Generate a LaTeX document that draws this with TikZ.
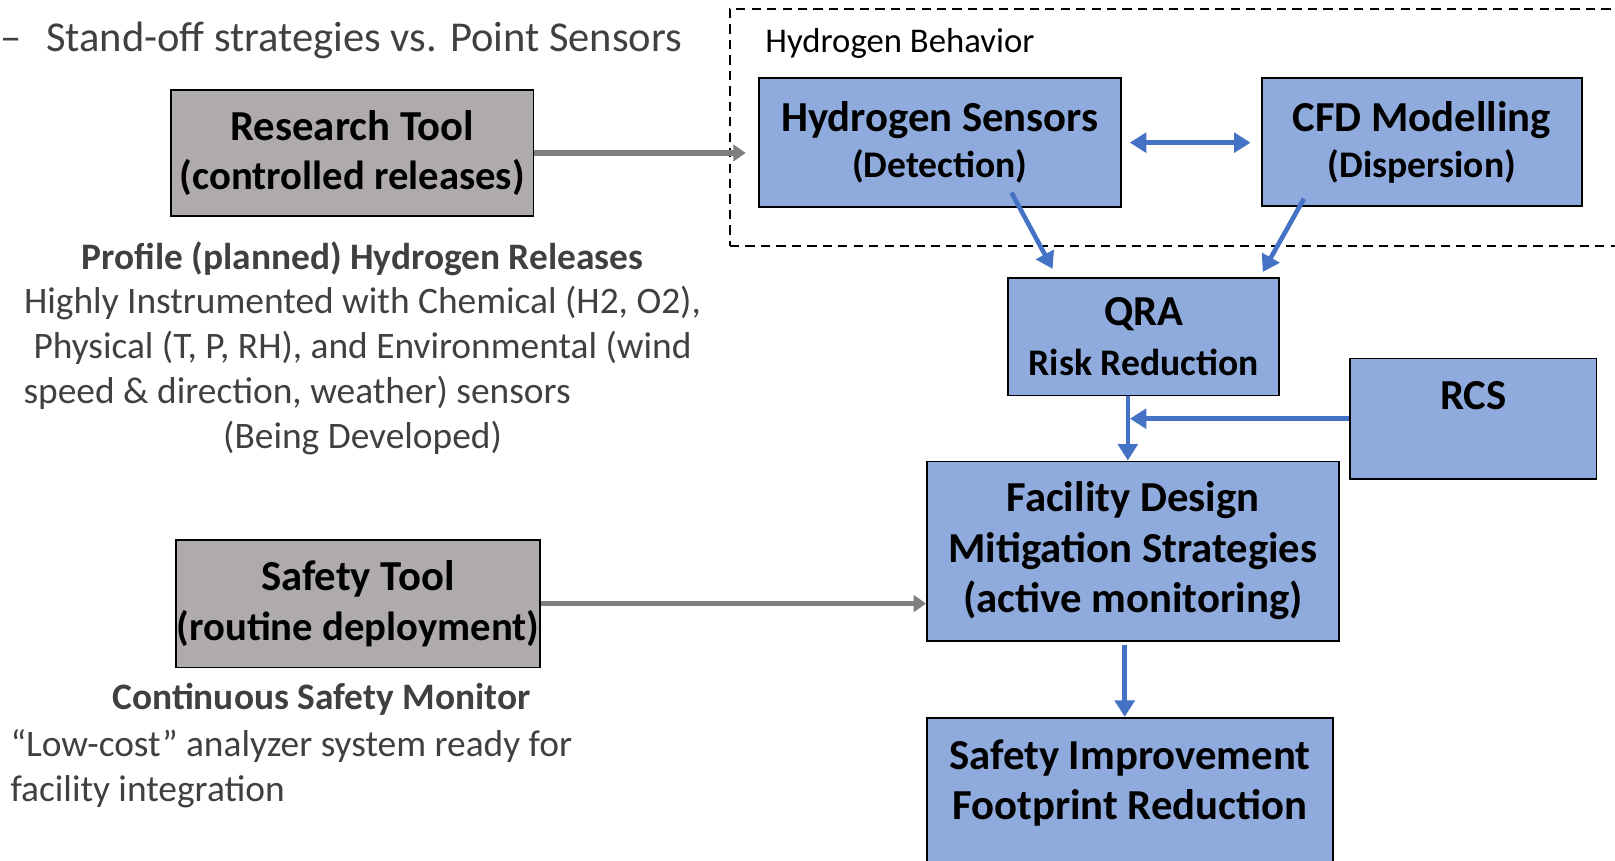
\documentclass[tikz,border=0pt]{standalone}
\usepackage{fontspec}
\setmainfont{Carlito}
\usepackage{tikz}
\usetikzlibrary{arrows.meta,positioning}
\definecolor{boxblue}{HTML}{8FAADC}
\definecolor{boxgray}{HTML}{AFABAB}
\definecolor{linkblue}{HTML}{4472C4}
\definecolor{linkgray}{HTML}{7F7F7F}
\definecolor{textgray}{HTML}{404040}

\begin{document}
\begin{tikzpicture}[x=1pt,y=-1pt,
  toolbox/.style={draw=black,line width=1.8pt,fill=boxgray,align=center,inner sep=0pt,
    font=\bfseries\fontsize{41.5}{48}\selectfont},
  stagebox/.style={draw=black,line width=1.8pt,fill=boxblue,align=center,inner sep=0pt,
    font=\bfseries\fontsize{41.5}{49}\selectfont},
  notes/.style={text=textgray,inner sep=0pt,font=\fontsize{36.3}{43.5}\selectfont},
  graylink/.style={draw=linkgray,line width=5.5pt,-{Triangle[length=12pt,width=16pt]}},
  bluelink/.style={draw=linkblue,line width=4.5pt,-{Triangle[length=16pt,width=19pt]}}]
  \clip (0,0) rectangle (1568,835);

  \node[anchor=base west,notes,font=\fontsize{41.3}{46}\selectfont] (standoff) at (0,50)
    {–\hspace{24pt}Stand-off strategies vs. Point Sensors};

  \node[toolbox,minimum width=352,minimum height=123] (research) at (342,148.5)
    {Research Tool\\{\fontsize{39.5}{48}\selectfont(controlled releases)}};
  \node[notes,align=center] (profile) at (352,338)
    {\bfseries Profile (planned) Hydrogen Releases\\
     Highly Instrumented with Chemical (H2, O2),\\
     Physical (T, P, RH), and Environmental (wind\\
     speed \& direction, weather) sensors\hspace*{127pt}\mbox{}\\
     (Being Developed)};

  \node[toolbox,minimum width=353,minimum height=124] (safety) at (347.5,586)
    {Safety Tool\\{\fontsize{39.5}{48}\selectfont(routine deployment)}};
  \node[notes,font=\bfseries\fontsize{36.3}{43.5}\selectfont] (monitor) at (312,679)
    {Continuous Safety Monitor};
  \node[notes,align=left,anchor=north west] (monitortext) at (10,708)
    {“Low-cost” analyzer system ready for\\facility integration};

  \node[draw=black,line width=1.5pt,dash pattern=on 9pt off 6pt,anchor=north west,
    minimum width=950,minimum height=230,inner sep=0pt] (behavior) at (708,8) {};
  \node[anchor=west,inner sep=0pt,font=\fontsize{33.7}{40}\selectfont] (behaviorlabel) at (743,42)
    {Hydrogen Behavior};

  \node[stagebox,minimum width=351,minimum height=125,font=\bfseries\fontsize{41.5}{45}\selectfont]
    (sensors) at (912.5,138.5)
    {Hydrogen Sensors\\{\fontsize{36.5}{41}\selectfont(Detection)}};
  \node[stagebox,minimum width=311,minimum height=124,font=\bfseries\fontsize{41.5}{45}\selectfont]
    (cfd) at (1380.5,138)
    {CFD Modelling\\{\fontsize{36.5}{41}\selectfont(Dispersion)}};
  \node[stagebox,minimum width=263,minimum height=114] (qra) at (1110.5,327)
    {QRA\\{\fontsize{36.5}{44}\selectfont Risk Reduction}};
  \node[stagebox,minimum width=239,minimum height=117,text height=28pt,text depth=45pt] (rcs)
    at (1430.5,406.5) {RCS};
  \node[stagebox,minimum width=400,minimum height=174] (facility) at (1100,535)
    {Facility Design\\Mitigation Strategies\\(active monitoring)};
  \node[stagebox,minimum width=394,minimum height=200,anchor=north,text height=30pt,
    text depth=32pt] (improve) at (1097,696)
    {Safety Improvement\\Footprint Reduction};

  \coordinate (behaviorin) at ([xshift=16pt]behavior.west |- research.east);
  \coordinate (merge) at ([xshift=-15.5pt]qra.south |- rcs.west);

  \draw[graylink] (research.east) -- (behaviorin);
  \draw[graylink] (safety.east) -- (safety.east -| facility.west);
  \draw[bluelink,{Triangle[length=16pt,width=19pt]}-{Triangle[length=16pt,width=19pt]},
    shorten <=8pt,shorten >=10pt] (sensors.east) -- (sensors.east -| cfd.west);
  \draw[bluelink] ([xshift=69.5pt,yshift=15pt]sensors.south) -- ([xshift=-88.5pt,yshift=8pt]qra.north);
  \draw[bluelink] ([xshift=-114.5pt,yshift=8pt]cfd.south) -- ([xshift=115.5pt,yshift=5pt]qra.north);
  \draw[bluelink] (qra.south -| merge) -- (merge |- facility.north);
  \draw[bluelink,shorten >=2pt] (rcs.west) -- (merge);
  \draw[bluelink,shorten <=3pt] ([xshift=-8pt]facility.south) -- ([xshift=-8pt]facility.south |- improve.north);
\end{tikzpicture}
\end{document}
